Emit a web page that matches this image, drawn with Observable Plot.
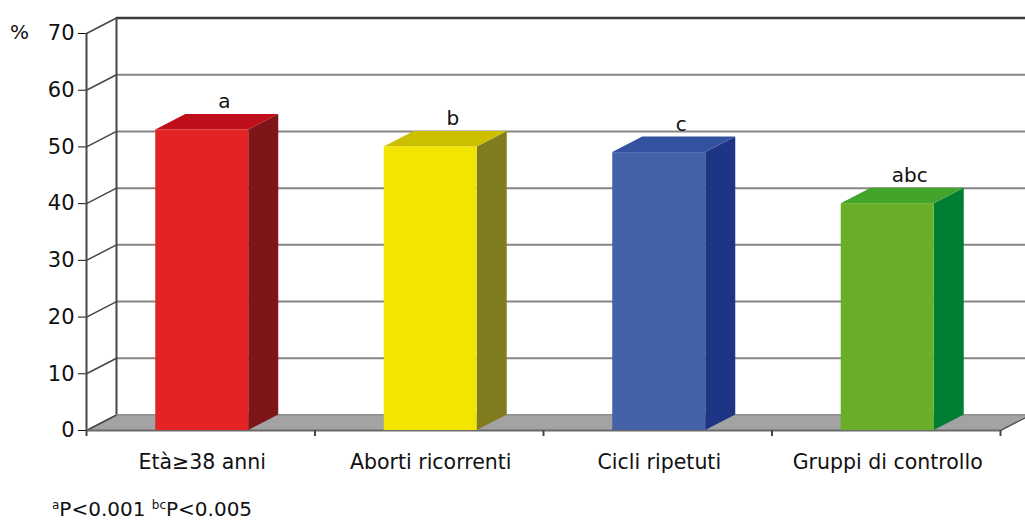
<!DOCTYPE html>
<html>
<head>
<meta charset="utf-8">
<script src="https://cdn.jsdelivr.net/npm/d3@7"></script>
<script src="https://cdn.jsdelivr.net/npm/@observablehq/plot@0.6"></script>
<style>
  html, body { margin: 0; padding: 0; background: #fff; }
  body { width: 1025px; height: 528px; position: relative; overflow: hidden; font-family: "DejaVu Sans", sans-serif; }
  #note { position: absolute; left: 52px; top: 498px; font-size: 20px; line-height: 22px; color: #111; white-space: nowrap; }
  #note .s { font-size: 12px; vertical-align: 7px; line-height: 0; }
</style>
</head>
<body>
<div id="chart"></div>
<div id="note"><span class="s">a</span>P&lt;0.001 <span class="s">bc</span>P&lt;0.005</div>
<script>
// ---- data ----
const categories = ["Età≥38 anni", "Aborti ricorrenti", "Cicli ripetuti", "Gruppi di controllo"];
const values = [53, 50, 49, 40];
const barLabels = ["a", "b", "c", "abc"];
const frontColors = ["#e32424", "#f2e500", "#4462a8", "#69ad29"];
const sideColors = ["#7e1518", "#7f7d1f", "#1d3584", "#007f34"];
const topColors = ["#bf0f1b", "#cbbf00", "#33529f", "#42a42b"];
const yTicks = [0, 10, 20, 30, 40, 50, 60, 70];

// ---- geometry (style constants) ----
const W = 1025, H = 490;
const mL = 86, mR = 25, mT = 33, mB = 60;
const pxPerX = (W - mL - mR) / categories.length;   // px per category unit
const pxPerY = (H - mT - mB) / 70;                   // px per percent
const DX = 30 / pxPerX;        // depth offset in x units
const DY = 15.5 / pxPerY;      // depth offset in y units
const HW = 46.5 / pxPerX;      // half bar width in x units
const SHIFT = 1.5 / pxPerX;

const bars = categories.map((c, i) => ({
  c, i, v: values[i], label: barLabels[i],
  cx: i + 0.5 + SHIFT,
  front: frontColors[i], side: sideColors[i], top: topColors[i]
}));

const sidePts = bars.flatMap(b => [
  {i: b.i, x: b.cx + HW, y1: 0, y2: b.v, fill: b.side},
  {i: b.i, x: b.cx + HW + DX, y1: DY, y2: b.v + DY, fill: b.side}
]);
const topPts = bars.flatMap(b => [
  {i: b.i, y: b.v, x1: b.cx - HW, x2: b.cx + HW, fill: b.top},
  {i: b.i, y: b.v + DY, x1: b.cx - HW + DX, x2: b.cx + HW + DX, fill: b.top}
]);
const floorPts = [
  {y: 0, x1: 0, x2: categories.length},
  {y: DY, x1: DX, x2: categories.length + DX}
];

const chart = Plot.plot({
  width: W, height: H,
  marginLeft: mL, marginRight: mR, marginTop: mT, marginBottom: mB,
  style: {fontFamily: "DejaVu Sans, sans-serif", fontSize: "21px", color: "#111", background: "transparent", overflow: "visible"},
  color: {type: "identity"},
  x: {domain: [0, categories.length], axis: null},
  y: {domain: [0, 70], ticks: yTicks, tickSize: 8, tickPadding: 4, label: null, tickFormat: d => String(d)},
  marks: [
    // back wall gridlines
    Plot.ruleY(yTicks.filter(d => d < 70), {y: d => d + DY, x1: DX, x2: categories.length + 0.3, stroke: "#8a8585", strokeWidth: 2}),
    Plot.ruleY([70], {y: d => d + DY, x1: DX, x2: categories.length + 0.3, stroke: "#3d3838", strokeWidth: 2.5}),
    // back wall left edge
    Plot.ruleX([DX], {y1: DY, y2: 70 + DY, stroke: "#4a4545", strokeWidth: 2}),
    // floor
    Plot.areaX(floorPts, {y: "y", x1: "x1", x2: "x2", fill: "#a3a3a3"}),
    Plot.ruleY([DY], {x1: DX, x2: categories.length + DX, stroke: "#8c8c8c", strokeWidth: 1}),
    Plot.link([categories.length], {x1: d => d, y1: 0, x2: d => d + DX, y2: DY, stroke: "#555", strokeWidth: 1.5}),
    // diagonal tick connectors
    Plot.link(yTicks, {x1: 0, y1: d => d, x2: DX, y2: d => d + DY, stroke: "#4a4545", strokeWidth: 1.5}),
    // front axes
    Plot.ruleX([0], {y1: 0, y2: 70, stroke: "#4a4545", strokeWidth: 2}),
    Plot.ruleY([0], {x1: 0, x2: categories.length, stroke: "#6a6a6a", strokeWidth: 2}),
    Plot.ruleX(d3.range(categories.length + 1), {x: d => d, y1: 0, y2: -6 / pxPerY, stroke: "#4a4545", strokeWidth: 2}),
    // bars: side, top, front
    Plot.areaY(sidePts, {x: "x", y1: "y1", y2: "y2", z: "i", fill: "fill"}),
    Plot.areaX(topPts, {y: "y", x1: "x1", x2: "x2", z: "i", fill: "fill"}),
    Plot.rect(bars, {x1: d => d.cx - HW, x2: d => d.cx + HW, y1: 0, y2: "v", fill: "front"}),
    // significance letters
    Plot.text(bars, {x: d => d.cx + 22 / pxPerX, y: d => d.v + DY, dy: -13, text: "label", fontSize: 20, fill: "#111"}),
    // category labels
    Plot.text(bars, {x: "cx", y: 0, dy: 31.5, text: "c", fontSize: 20.5, fill: "#111"}),
    // unit label
    Plot.text(["%"], {x: 0, y: 70, dx: -67, dy: -1, text: d => d, fontSize: 20, fill: "#111"})
  ]
});
document.getElementById("chart").appendChild(chart);
</script>
</body>
</html>
